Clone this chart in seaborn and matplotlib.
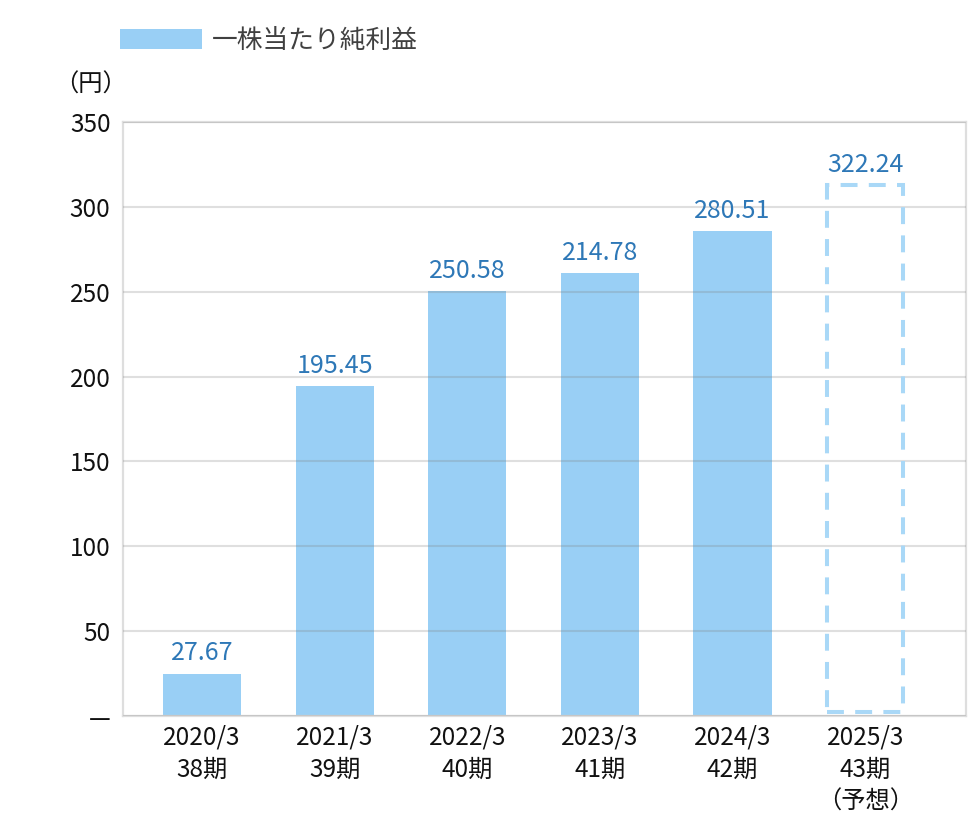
import matplotlib
matplotlib.use("Agg")
import matplotlib.pyplot as plt
import seaborn as sns
from matplotlib.patches import Patch

# ---- data ----
categories = ["2020/3\n38期", "2021/3\n39期", "2022/3\n40期", "2023/3\n41期", "2024/3\n42期", "2025/3\n43期\n（予想）"]
bar_heights = [25.0, 194.5, 250.3, 261.2, 285.5, 313.0]
value_labels = ["27.67", "195.45", "250.58", "214.78", "280.51", "322.24"]
y_ticks = [0, 50, 100, 150, 200, 250, 300, 350]
y_tick_labels = ["—", "50", "100", "150", "200", "250", "300", "350"]
legend_label = "一株当たり純利益"
unit_label = "（円）"

BAR = "#99cff5"
DASH = "#a9d8f7"
LABEL = "#2e78b7"
SPINE = "#dedede"

sns.set_theme(style="white")
plt.rcParams["font.family"] = ["Noto Sans CJK JP", "DejaVu Sans"]

fig = plt.figure(figsize=(9.8, 8.4), dpi=100)
ax = fig.add_axes([123/980, 1-716/840, (966-123)/980, (716-122)/840])

sns.barplot(x=categories, y=bar_heights, ax=ax, color=BAR, saturation=1,
            width=0.59, linewidth=0, edgecolor="none", zorder=1)

# forecast bar: dashed outline, lifted off the baseline by half a stroke
p = ax.patches[5]
cx = p.get_x() + p.get_width()/2
top = p.get_y() + p.get_height()
lift = 2.4
p.set_width(0.57)
p.set_x(cx - 0.285)
p.set_y(lift)
p.set_height(top - lift)
p.set_facecolor("none")
p.set_edgecolor(DASH)
p.set_linewidth(2.9)
p.set_linestyle((0, (4.2, 2.8)))
p.set_zorder(3)

for patch, lab in zip(ax.patches, value_labels):
    x = patch.get_x() + patch.get_width()/2
    ax.annotate(lab, (x, patch.get_y() + patch.get_height()), xytext=(0, 14.5),
                textcoords="offset points", ha="center", va="center",
                fontsize=18, color=LABEL, zorder=4)

ax.set_ylim(0, 350)
ax.set_xlim(-0.596, 5.76)
ax.set_yticks(y_ticks)
ax.set_yticklabels(y_tick_labels)
ax.grid(axis="y", color="#808080", alpha=0.25, linewidth=1.5, zorder=2)
ax.set_axisbelow(False)
ax.tick_params(axis="y", length=0, pad=9, labelsize=17.5, colors="#111111")
ax.tick_params(axis="x", length=0, pad=6, labelsize=17.5, colors="#111111")
for t in ax.get_xticklabels():
    t.set_linespacing(1.3)
for s in ax.spines.values():
    s.set_visible(True)
    s.set_color(SPINE)
    s.set_linewidth(1.6)
ax.set_xlabel("")
ax.set_ylabel("")

fig.text(90/980, 1-85/840, unit_label, ha="center", va="center", fontsize=17.5, color="#111111")

fig.legend(handles=[Patch(facecolor=BAR, edgecolor="none", label=legend_label)],
           loc="center left", bbox_to_anchor=(120/980, 1-41/840), frameon=False,
           fontsize=18.5, handlelength=3.2, handleheight=0.77, handletextpad=0.38,
           borderpad=0, borderaxespad=0, labelcolor="#404040")

fig.savefig("out.png", dpi=100)
